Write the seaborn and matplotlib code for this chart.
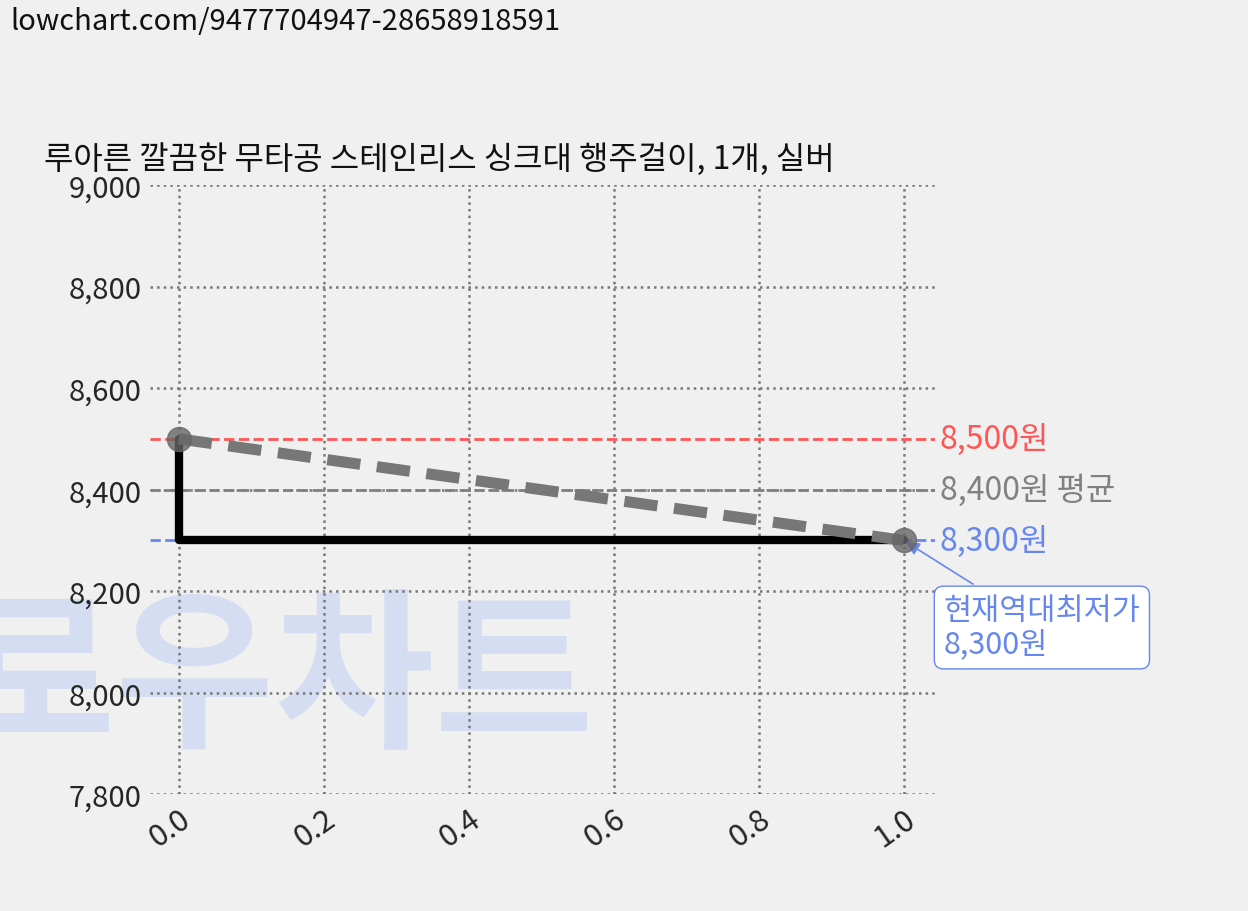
import numpy as np
import pandas as pd
import seaborn as sns
import matplotlib.pyplot as plt

# data
x_vals = [0, 1]
price_vals = [8500, 8300]
step_x = [0, 0, 1]
step_y = [8500, 8300, 8300]
max_price = 8500
avg_price = 8400
min_price = 8300
title = "루아른 깔끔한 무타공 스테인리스 싱크대 행주걸이, 1개, 실버"
url = "lowchart.com/9477704947-28658918591"

sns.set_theme(style="white")
plt.rcParams['font.family'] = ['Noto Sans CJK KR', 'DejaVu Sans']
bg = "#f0f0f0"

fig = plt.figure(figsize=(12.48, 9.12), dpi=100, facecolor=bg)
ax = fig.add_axes([0.120, 0.128, 0.629, 0.668])
ax.patch.set_alpha(0)

fig.text(0.008, 0.992, url, fontsize=21, va="top", ha="left", color="#111111")
fig.text(-0.035, 0.155, "로우차트", fontsize=125, fontweight="black", color="#d4ddf2",
         ha="left", va="bottom", zorder=-1)

df = pd.DataFrame({"x": x_vals, "price": price_vals})
ax.axhline(max_price, color="#ff5555", ls="--", lw=2, zorder=2)
ax.axhline(avg_price, color="#808080", ls="--", lw=2, zorder=2)
ax.axhline(min_price, color="#6688ee", ls="--", lw=2, zorder=2)
ax.plot(step_x, step_y, color="black", lw=6, zorder=3)
sns.lineplot(data=df, x="x", y="price", ax=ax, color="#777777", lw=8, zorder=4)
ax.lines[-1].set_linestyle((0, (3, 1.5)))
ax.scatter(x_vals, price_vals, s=300, color="#666666", alpha=0.8, zorder=5)

ax.set_xlim(-0.04, 1.043)
ax.set_ylim(7800, 9000)
ticks = np.arange(0, 1.01, 0.2)
ax.set_xticks(ticks)
ax.set_xticklabels([f"{v:.1f}" for v in ticks], rotation=35, fontsize=22,
                   ha="right", rotation_mode="anchor")
ax.set_yticks(range(7800, 9001, 200))
ax.set_yticklabels([f"{v:,}" for v in range(7800, 9001, 200)], fontsize=21)
ax.grid(True, ls=":", color="#777777", lw=1.8)
for s in ax.spines.values():
    s.set_visible(False)
ax.set_xlabel("")
ax.set_ylabel("")
ax.set_title(title, fontsize=23, pad=12, color="#111111", loc="left", x=-0.135)
ax.tick_params(length=0, pad=6)

ax.text(1.05, max_price, f"{max_price:,}원", color="#ff5555", fontsize=23, va="center")
ax.text(1.05, avg_price, f"{avg_price:,}원 평균", color="#808080", fontsize=23, va="center")
ax.text(1.05, min_price, f"{min_price:,}원", color="#6688ee", fontsize=23, va="center")
ax.annotate(f"현재역대최저가\n{min_price:,}원", xy=(1.0, min_price), xytext=(1.055, 8065),
            color="#6688ee", fontsize=22, va="bottom", annotation_clip=False,
            linespacing=1.1,
            bbox=dict(boxstyle="round,pad=0.3", fc="white", ec="#6688ee"),
            arrowprops=dict(arrowstyle="-|>", color="#6688ee", lw=1.2, mutation_scale=20))

fig.savefig("out.png", dpi=100, facecolor=bg)
